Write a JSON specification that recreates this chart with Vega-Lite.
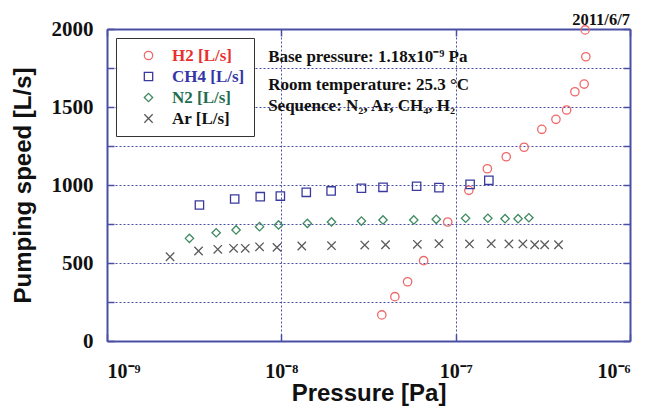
{
  "$schema": "https://vega.github.io/schema/vega-lite/v6.json",
  "width": 523,
  "height": 312,
  "autosize": "none",
  "padding": {"left": 107, "top": 29, "right": 18, "bottom": 65},
  "background": "white",
  "config": {
    "view": {"stroke": null},
    "axis": {
      "domainColor": "#4a4fa6",
      "domainWidth": 2,
      "tickColor": "#4a4fa6",
      "tickWidth": 1.5,
      "gridColor": "#4a4fa6",
      "gridDash": [2, 2],
      "gridWidth": 1,
      "gridOpacity": 1,
      "labelFont": "Liberation Serif",
      "labelFontWeight": "bold",
      "labelColor": "#111",
      "titleFont": "Liberation Sans",
      "titleFontWeight": "bold",
      "titleColor": "#111"
    }
  },
  "title": {
    "text": "2011/6/7",
    "anchor": "end",
    "font": "Liberation Serif",
    "fontWeight": "bold",
    "fontSize": 16.5,
    "color": "#111",
    "offset": -10,
    "frame": "group"
  },
  "datasets": {
    "pts": [
      {"gas": "H2 [L/s]", "p": 3.77e-8, "s": 167},
      {"gas": "H2 [L/s]", "p": 4.48e-8, "s": 284},
      {"gas": "H2 [L/s]", "p": 5.30e-8, "s": 380},
      {"gas": "H2 [L/s]", "p": 6.55e-8, "s": 515},
      {"gas": "H2 [L/s]", "p": 9.00e-8, "s": 763},
      {"gas": "H2 [L/s]", "p": 1.19e-7, "s": 966},
      {"gas": "H2 [L/s]", "p": 1.52e-7, "s": 1104},
      {"gas": "H2 [L/s]", "p": 1.95e-7, "s": 1181},
      {"gas": "H2 [L/s]", "p": 2.47e-7, "s": 1242},
      {"gas": "H2 [L/s]", "p": 3.12e-7, "s": 1357},
      {"gas": "H2 [L/s]", "p": 3.76e-7, "s": 1421},
      {"gas": "H2 [L/s]", "p": 4.33e-7, "s": 1481},
      {"gas": "H2 [L/s]", "p": 4.83e-7, "s": 1598},
      {"gas": "H2 [L/s]", "p": 5.46e-7, "s": 1647},
      {"gas": "H2 [L/s]", "p": 5.58e-7, "s": 1822},
      {"gas": "H2 [L/s]", "p": 5.53e-7, "s": 1994},
      {"gas": "CH4 [L/s]", "p": 3.39e-9, "s": 872},
      {"gas": "CH4 [L/s]", "p": 5.40e-9, "s": 910},
      {"gas": "CH4 [L/s]", "p": 7.57e-9, "s": 925},
      {"gas": "CH4 [L/s]", "p": 9.87e-9, "s": 929},
      {"gas": "CH4 [L/s]", "p": 1.39e-8, "s": 953},
      {"gas": "CH4 [L/s]", "p": 1.93e-8, "s": 962},
      {"gas": "CH4 [L/s]", "p": 2.88e-8, "s": 979},
      {"gas": "CH4 [L/s]", "p": 3.83e-8, "s": 985},
      {"gas": "CH4 [L/s]", "p": 5.97e-8, "s": 992},
      {"gas": "CH4 [L/s]", "p": 8.02e-8, "s": 983},
      {"gas": "CH4 [L/s]", "p": 1.21e-7, "s": 1004},
      {"gas": "CH4 [L/s]", "p": 1.55e-7, "s": 1030},
      {"gas": "N2 [L/s]", "p": 2.97e-9, "s": 658},
      {"gas": "N2 [L/s]", "p": 4.23e-9, "s": 694},
      {"gas": "N2 [L/s]", "p": 5.50e-9, "s": 712},
      {"gas": "N2 [L/s]", "p": 7.50e-9, "s": 733},
      {"gas": "N2 [L/s]", "p": 9.64e-9, "s": 744},
      {"gas": "N2 [L/s]", "p": 1.41e-8, "s": 754},
      {"gas": "N2 [L/s]", "p": 1.94e-8, "s": 763},
      {"gas": "N2 [L/s]", "p": 2.88e-8, "s": 769},
      {"gas": "N2 [L/s]", "p": 3.83e-8, "s": 776},
      {"gas": "N2 [L/s]", "p": 5.75e-8, "s": 776},
      {"gas": "N2 [L/s]", "p": 7.74e-8, "s": 780},
      {"gas": "N2 [L/s]", "p": 1.14e-7, "s": 787},
      {"gas": "N2 [L/s]", "p": 1.53e-7, "s": 787},
      {"gas": "N2 [L/s]", "p": 1.92e-7, "s": 784},
      {"gas": "N2 [L/s]", "p": 2.28e-7, "s": 784},
      {"gas": "N2 [L/s]", "p": 2.63e-7, "s": 790},
      {"gas": "Ar [L/s]", "p": 2.30e-9, "s": 540},
      {"gas": "Ar [L/s]", "p": 3.35e-9, "s": 577},
      {"gas": "Ar [L/s]", "p": 4.32e-9, "s": 588},
      {"gas": "Ar [L/s]", "p": 5.32e-9, "s": 594},
      {"gas": "Ar [L/s]", "p": 6.21e-9, "s": 594},
      {"gas": "Ar [L/s]", "p": 7.50e-9, "s": 604},
      {"gas": "Ar [L/s]", "p": 9.44e-9, "s": 600},
      {"gas": "Ar [L/s]", "p": 1.31e-8, "s": 609},
      {"gas": "Ar [L/s]", "p": 1.94e-8, "s": 611},
      {"gas": "Ar [L/s]", "p": 3.01e-8, "s": 615},
      {"gas": "Ar [L/s]", "p": 3.96e-8, "s": 617},
      {"gas": "Ar [L/s]", "p": 6.03e-8, "s": 620},
      {"gas": "Ar [L/s]", "p": 8.02e-8, "s": 624},
      {"gas": "Ar [L/s]", "p": 1.20e-7, "s": 622},
      {"gas": "Ar [L/s]", "p": 1.60e-7, "s": 624},
      {"gas": "Ar [L/s]", "p": 2.02e-7, "s": 622},
      {"gas": "Ar [L/s]", "p": 2.43e-7, "s": 622},
      {"gas": "Ar [L/s]", "p": 2.84e-7, "s": 617},
      {"gas": "Ar [L/s]", "p": 3.24e-7, "s": 617},
      {"gas": "Ar [L/s]", "p": 3.89e-7, "s": 617}
    ],
    "notes": [
      {"label": "Base pressure: 1.18x10⁻⁹ Pa", "p": 8.4e-9, "s": 1820},
      {"label": "Room temperature: 25.3 °C", "p": 8.4e-9, "s": 1641},
      {"label": "Sequence: N₂, Ar, CH₄, H₂", "p": 8.4e-9, "s": 1506}
    ]
  },
  "layer": [
    {
      "mark": {"type": "rect", "fill": "white"},
      "encoding": {
        "x": {"datum": 8.2e-9, "type": "quantitative", "scale": {"type": "log", "domain": [1e-9, 1e-6]}, "axis": null},
        "x2": {"datum": 1.2e-7},
        "y": {"datum": 1420, "type": "quantitative", "scale": {"domain": [0, 2000]}, "axis": null},
        "y2": {"datum": 1930}
      }
    },
    {
      "data": {"name": "pts"},
      "mark": {"type": "point", "filled": false, "strokeWidth": 1.3, "opacity": 1},
      "encoding": {
        "x": {
          "field": "p", "type": "quantitative",
          "scale": {"type": "log", "domain": [1e-9, 1e-6]},
          "axis": {
            "orient": "bottom",
            "values": [1e-9, 1e-8, 1e-7, 1e-6],
            "labelExpr": "'10' + (datum.value < 1.5e-9 ? '⁻⁹' : datum.value < 1.5e-8 ? '⁻⁸' : datum.value < 1.5e-7 ? '⁻⁷' : '⁻⁶')",
            "labelFontSize": 20,
            "labelPadding": 27,
            "tickSize": -7,
            "grid": true,
            "title": "Pressure [Pa]",
            "titleFontSize": 24,
            "titlePadding": 0
          }
        },
        "y": {
          "field": "s", "type": "quantitative",
          "scale": {"domain": [0, 2000]},
          "axis": {
            "orient": "left",
            "values": [0, 250, 500, 750, 1000, 1250, 1500, 1750, 2000],
            "labelExpr": "datum.value % 500 === 0 ? datum.label : ''",
            "format": "d",
            "labelFontSize": 21,
            "labelPadding": 21,
            "tickSize": -7,
            "grid": true,
            "title": "Pumping speed [L/s]",
            "titleFontSize": 24,
            "titlePadding": 16
          }
        },
        "color": {
          "field": "gas", "type": "nominal",
          "scale": {
            "domain": ["H2 [L/s]", "CH4 [L/s]", "N2 [L/s]", "Ar [L/s]"],
            "range": ["#f06868", "#3a3a9e", "#3f8a62", "#5a5a5a"]
          },
          "legend": {
            "title": null,
            "orient": "none",
            "legendX": 9,
            "legendY": 9,
            "fillColor": "white",
            "strokeColor": "#333",
            "padding": 9,
            "labelFont": "Liberation Serif",
            "labelFontWeight": "bold",
            "labelFontSize": 17,
            "labelColor": {"expr": "datum.value === 'H2 [L/s]' ? '#e8302c' : datum.value === 'CH4 [L/s]' ? '#3535a6' : datum.value === 'N2 [L/s]' ? '#1f6e4f' : '#111'"},
            "labelOffset": 15,
            "symbolOffset": 15,
            "rowPadding": 3,
            "symbolStrokeWidth": 1.3,
            "symbolSize": 70
          }
        },
        "shape": {
          "field": "gas", "type": "nominal",
          "scale": {
            "domain": ["H2 [L/s]", "CH4 [L/s]", "N2 [L/s]", "Ar [L/s]"],
            "range": ["circle", "square", "diamond", "M-1,-1L1,1M-1,1L1,-1"]
          }
        },
        "size": {"value": 70}
      }
    },
    {
      "data": {"name": "notes"},
      "mark": {"type": "text", "align": "left", "baseline": "middle", "font": "Liberation Serif", "fontWeight": "bold", "fontSize": 17, "color": "#111"},
      "encoding": {
        "x": {
          "field": "p", "type": "quantitative",
          "scale": {"type": "log", "domain": [1e-9, 1e-6]},
          "axis": {"orient": "top", "values": [1e-9, 1e-8, 1e-7, 1e-6], "labels": false, "tickSize": -7, "grid": false, "title": null}
        },
        "y": {
          "field": "s", "type": "quantitative",
          "scale": {"domain": [0, 2000]},
          "axis": {"orient": "right", "values": [0, 250, 500, 750, 1000, 1250, 1500, 1750, 2000], "labels": false, "tickSize": -7, "grid": false, "title": null}
        },
        "text": {"field": "label"}
      }
    }
  ]
}
